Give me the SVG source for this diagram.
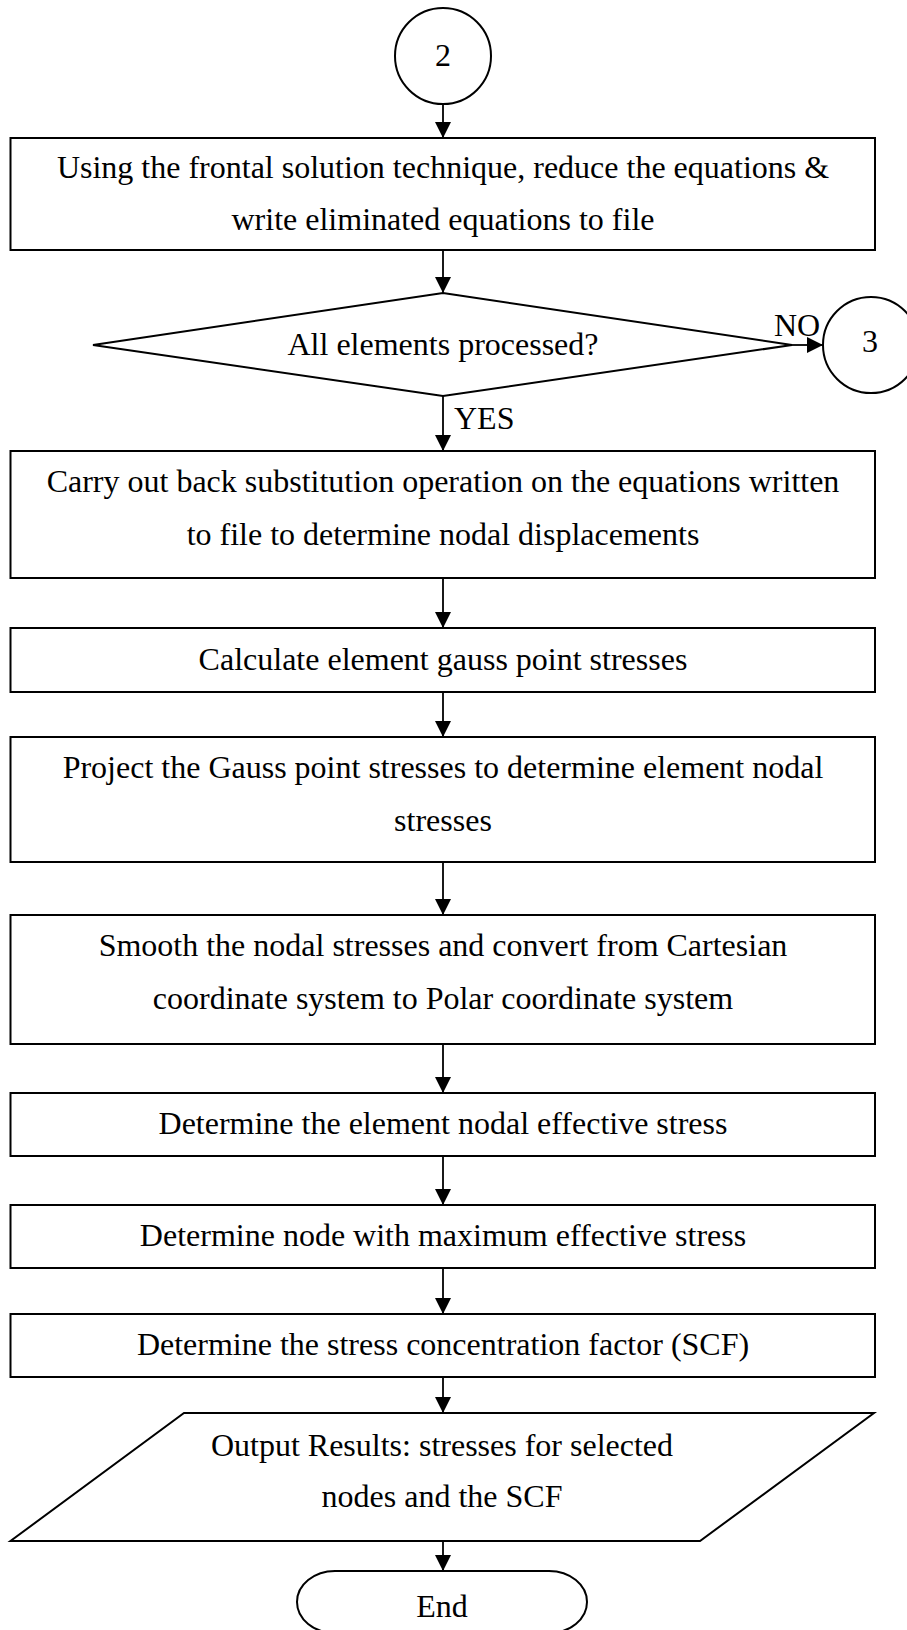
<svg xmlns="http://www.w3.org/2000/svg" width="907" height="1630" viewBox="0 0 907 1630">
<style>
.s{fill:#fff;stroke:#000;stroke-width:2}
.t{font-family:"Liberation Serif","Times New Roman",serif;font-size:32px;fill:#000}
.c{text-anchor:middle}
.e{stroke:#000;stroke-width:1.8;fill:none}
</style>
<defs>
<marker id="ah" markerUnits="userSpaceOnUse" markerWidth="16" markerHeight="16" refX="16" refY="8" orient="auto">
<path d="M0,0 L16,8 L0,16 Z" fill="#000"/>
</marker>
</defs>
<rect width="907" height="1630" fill="#fff"/>
<g id="connectors">
<line class="e" x1="443" y1="104" x2="443" y2="138" marker-end="url(#ah)"/>
<line class="e" x1="443" y1="250" x2="443" y2="293" marker-end="url(#ah)"/>
<line class="e" x1="792" y1="345" x2="823" y2="345" marker-end="url(#ah)"/>
<line class="e" x1="443" y1="396" x2="443" y2="451" marker-end="url(#ah)"/>
<line class="e" x1="443" y1="578" x2="443" y2="628" marker-end="url(#ah)"/>
<line class="e" x1="443" y1="692" x2="443" y2="737" marker-end="url(#ah)"/>
<line class="e" x1="443" y1="862" x2="443" y2="915" marker-end="url(#ah)"/>
<line class="e" x1="443" y1="1044" x2="443" y2="1093" marker-end="url(#ah)"/>
<line class="e" x1="443" y1="1156" x2="443" y2="1205" marker-end="url(#ah)"/>
<line class="e" x1="443" y1="1268" x2="443" y2="1314" marker-end="url(#ah)"/>
<line class="e" x1="443" y1="1377" x2="443" y2="1413" marker-end="url(#ah)"/>
<line class="e" x1="443" y1="1541" x2="443" y2="1571" marker-end="url(#ah)"/>
<text class="t" x="774" y="336">NO</text>
<text class="t" x="454" y="429">YES</text>
</g>
<g id="n_c2">
<circle class="s" cx="443" cy="56" r="48"/>
<text class="t c" x="443" y="66">2</text>
</g>
<g id="n_frontal">
<rect class="s" x="10.5" y="138" width="864.5" height="112"/>
<text class="t c" x="443" y="178">Using the frontal solution technique, reduce the equations &amp;</text>
<text class="t c" x="443" y="230">write eliminated equations to file</text>
</g>
<g id="n_decision">
<polygon class="s" points="93,345 443,293 792,345 443,396"/>
<text class="t c" x="443" y="355">All elements processed?</text>
</g>
<g id="n_c3">
<circle class="s" cx="871" cy="345" r="48"/>
<text class="t c" x="870" y="352">3</text>
</g>
<g id="n_back">
<rect class="s" x="10.5" y="451" width="864.5" height="127"/>
<text class="t c" x="443" y="492">Carry out back substitution operation on the equations written</text>
<text class="t c" x="443" y="545">to file to determine nodal displacements</text>
</g>
<g id="n_gauss">
<rect class="s" x="10.5" y="628" width="864.5" height="64"/>
<text class="t c" x="443" y="670">Calculate element gauss point stresses</text>
</g>
<g id="n_project">
<rect class="s" x="10.5" y="737" width="864.5" height="125"/>
<text class="t c" x="443" y="778">Project the Gauss point stresses to determine element nodal</text>
<text class="t c" x="443" y="831">stresses</text>
</g>
<g id="n_smooth">
<rect class="s" x="10.5" y="915" width="864.5" height="129"/>
<text class="t c" x="443" y="956">Smooth the nodal stresses and convert from Cartesian</text>
<text class="t c" x="443" y="1009">coordinate system to Polar coordinate system</text>
</g>
<g id="n_effective">
<rect class="s" x="10.5" y="1093" width="864.5" height="63"/>
<text class="t c" x="443" y="1134">Determine the element nodal effective stress</text>
</g>
<g id="n_maxnode">
<rect class="s" x="10.5" y="1205" width="864.5" height="63"/>
<text class="t c" x="443" y="1246">Determine node with maximum effective stress</text>
</g>
<g id="n_scf">
<rect class="s" x="10.5" y="1314" width="864.5" height="63"/>
<text class="t c" x="443" y="1355">Determine the stress concentration factor (SCF)</text>
</g>
<g id="n_output">
<polygon class="s" points="184,1413 874,1413 700,1541 10.5,1541"/>
<text class="t c" x="442" y="1456">Output Results: stresses for selected</text>
<text class="t c" x="442" y="1507">nodes and the SCF</text>
</g>
<g id="n_end">
<rect class="s" x="297" y="1571" width="290" height="62" rx="38" ry="31"/>
<text class="t c" x="442" y="1617">End</text>
</g>
</svg>
